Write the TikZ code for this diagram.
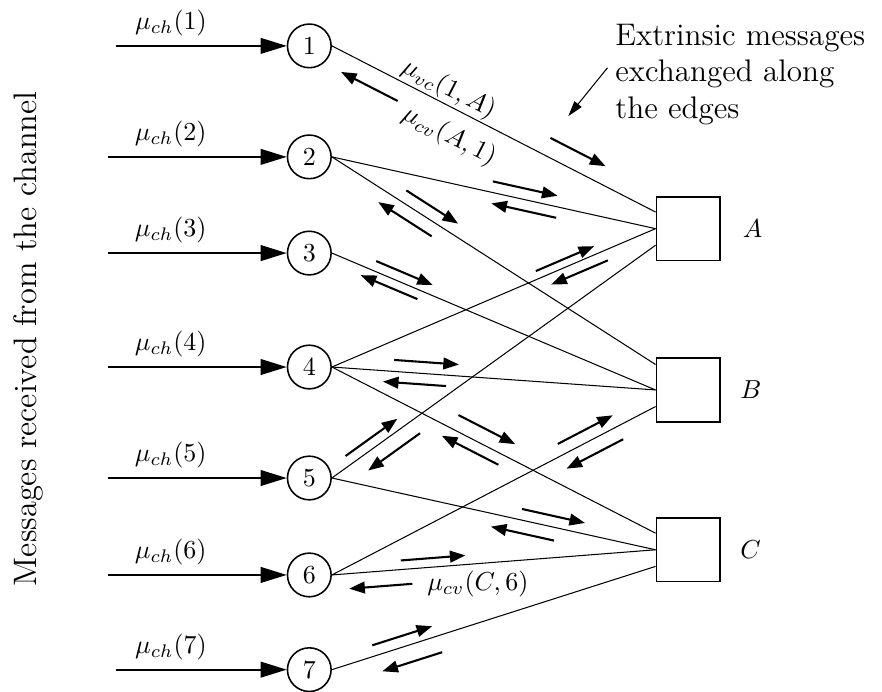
\documentclass[tikz,border=0pt]{standalone}
\usepackage{tikz}
\usetikzlibrary{positioning, calc, arrows.meta}

\begin{document}
\begin{tikzpicture}[
    varnode/.style={circle, draw, semithick, minimum size=0.59cm, inner sep=0pt},
    checknode/.style={rectangle, draw, semithick, minimum size=0.86cm},
    link/.style={thin},
    chan/.style={thick, -{Triangle[length=10pt, width=6pt]}},
    msg/.style={thick, -{Triangle[length=6pt, width=4.5pt]}},
    pointer/.style={thin, -{Triangle[length=6pt, width=3.5pt]}}
]
\useasboundingbox (0,0) rectangle (11.92,-9.34);

% variable nodes
\node [varnode] (v1) at (4.18,-0.62) {1};
\node [varnode] (v2) at (4.18,-2.12) {2};
\node [varnode] (v3) at (4.18,-3.42) {3};
\node [varnode] (v4) at (4.18,-4.96) {4};
\node [varnode] (v5) at (4.18,-6.46) {5};
\node [varnode] (v6) at (4.18,-7.77) {6};
\node [varnode] (v7) at (4.18,-9.05) {7};

% check nodes
\node [checknode, label={[label distance=5pt]right:$A$}] (A) at (9.30,-3.09) {};
\node [checknode, label={[label distance=4pt]right:$B$}] (B) at (9.30,-5.27) {};
\node [checknode, label={[label distance=4pt]right:$C$}] (C) at (9.30,-7.43) {};

% side texts
\node [rotate=90, font=\fontsize{12.5}{15}\selectfont] (side) at (0.38,-4.58) {Messages received from the channel};
\node [anchor=north west, align=left, font=\large, inner sep=0pt] (ext) at (8.31,-0.32) {Extrinsic messages\\ exchanged along\\ the edges};
\coordinate (tip) at (7.68,-1.57);
\draw [pointer] ([shift={(-0.1,0.09)}]ext.west) -- (tip);

% channel inputs
\draw [chan] ([xshift=-2.3cm]v1.west) -- node[above, pos=0.32] {$\mu_{ch}(1)$} (v1);
\draw [chan] ([xshift=-2.41cm]v2.west) -- node[above, pos=0.35] {$\mu_{ch}(2)$} (v2);
\draw [chan] ([xshift=-2.41cm]v3.west) -- node[above, pos=0.35] {$\mu_{ch}(3)$} (v3);
\draw [chan] ([xshift=-2.41cm]v4.west) -- node[above, pos=0.35] {$\mu_{ch}(4)$} (v4);
\draw [chan] ([xshift=-2.41cm]v5.west) -- node[above, pos=0.35] {$\mu_{ch}(5)$} (v5);
\draw [chan] ([xshift=-2.41cm]v6.west) -- node[above, pos=0.35] {$\mu_{ch}(6)$} (v6);
\draw [chan] ([xshift=-2.3cm]v7.west) -- node[above, pos=0.32] {$\mu_{ch}(7)$} (v7);

% edges of the graph
\draw [link] (v1.east) -- node[pos=0.34, sloped, anchor=south, inner sep=0.5pt] {$\mu_{vc}(1,A)$}
                          node[pos=0.40, sloped, anchor=north, inner sep=5pt] {$\mu_{cv}(A,1)$} (A.153);
\draw [link] (v2.east) -- (A.west);
\draw [link] (v4.east) -- (A.west);
\draw [link] (v5.east) -- (A.207);
\draw [link] (v2.east) -- (B.142);
\draw [link] (v3.east) -- (B.west);
\draw [link] (v4.east) -- (B.west);
\draw [link] (v6.east) -- (B.207);
\draw [link] (v4.east) -- (C.153);
\draw [link] (v5.east) -- (C.west);
\draw [link] (v6.east) -- (C.west);
\draw [link] (v7.east) -- (C.207);

% messages along the edges
\draw [msg] ($(v1.east)!0.65!(A.153)!6.9pt!90:(A.153)$) -- ($(v1.east)!0.82!(A.153)!6.9pt!90:(A.153)$);
\draw [msg] ($(v1.east)!0.23!(A.153)!-7.3pt!90:(A.153)$) -- ($(v1.east)!0.055!(A.153)!-7.3pt!90:(A.153)$);
\draw [msg] ($(v2.east)!0.49!(A.west)!4.2pt!90:(A.west)$) -- ($(v2.east)!0.69!(A.west)!4.2pt!90:(A.west)$);
\draw [msg] ($(v2.east)!0.70!(A.west)!-4.2pt!90:(A.west)$) -- ($(v2.east)!0.50!(A.west)!-4.2pt!90:(A.west)$);
\draw [msg] ($(v4.east)!0.64!(A.west)!3.1pt!90:(A.west)$) -- ($(v4.east)!0.82!(A.west)!3.1pt!90:(A.west)$);
\draw [msg] ($(v4.east)!0.84!(A.west)!-4pt!90:(A.west)$) -- ($(v4.east)!0.665!(A.west)!-4pt!90:(A.west)$);
\draw [msg] ($(v5.east)!0.06!(A.207)!3.8pt!90:(A.207)$) -- ($(v5.east)!0.22!(A.207)!3.8pt!90:(A.207)$);
\draw [msg] ($(v5.east)!0.245!(A.207)!-5.8pt!90:(A.207)$) -- ($(v5.east)!0.085!(A.207)!-5.8pt!90:(A.207)$);

\draw [msg] ($(v2.east)!0.21!(B.142)!4.6pt!90:(B.142)$) -- ($(v2.east)!0.37!(B.142)!4.6pt!90:(B.142)$);
\draw [msg] ($(v2.east)!0.33!(B.142)!-5pt!90:(B.142)$) -- ($(v2.east)!0.165!(B.142)!-5pt!90:(B.142)$);
\draw [msg] ($(v3.east)!0.125!(B.west)!3.8pt!90:(B.west)$) -- ($(v3.east)!0.30!(B.west)!3.8pt!90:(B.west)$);
\draw [msg] ($(v3.east)!0.275!(B.west)!-3.5pt!90:(B.west)$) -- ($(v3.east)!0.10!(B.west)!-3.5pt!90:(B.west)$);
\draw [msg] ($(v4.east)!0.19!(B.west)!4.4pt!90:(B.west)$) -- ($(v4.east)!0.39!(B.west)!4.4pt!90:(B.west)$);
\draw [msg] ($(v4.east)!0.355!(B.west)!-4.2pt!90:(B.west)$) -- ($(v4.east)!0.16!(B.west)!-4.2pt!90:(B.west)$);
\draw [msg] ($(v6.east)!0.715!(B.207)!4.6pt!90:(B.207)$) -- ($(v6.east)!0.885!(B.207)!4.6pt!90:(B.207)$);
\draw [msg] ($(v6.east)!0.88!(B.207)!-5.4pt!90:(B.207)$) -- ($(v6.east)!0.705!(B.207)!-5.4pt!90:(B.207)$);

\draw [msg] ($(v4.east)!0.37!(C.153)!5.8pt!90:(C.153)$) -- ($(v4.east)!0.545!(C.153)!5.8pt!90:(C.153)$);
\draw [msg] ($(v4.east)!0.53!(C.153)!-4.2pt!90:(C.153)$) -- ($(v4.east)!0.355!(C.153)!-4.2pt!90:(C.153)$);
\draw [msg] ($(v5.east)!0.58!(C.west)!4.2pt!90:(C.west)$) -- ($(v5.east)!0.775!(C.west)!4.2pt!90:(C.west)$);
\draw [msg] ($(v5.east)!0.695!(C.west)!-5pt!90:(C.west)$) -- ($(v5.east)!0.50!(C.west)!-5pt!90:(C.west)$);
\draw [msg] ($(v6.east)!0.215!(C.west)!3.5pt!90:(C.west)$) -- ($(v6.east)!0.415!(C.west)!3.5pt!90:(C.west)$);
\draw [msg] ($(v6.east)!0.245!(C.west)!-5.8pt!90:(C.west)$) node[right=2pt] {$\mu_{cv}(C,6)$}
         -- ($(v6.east)!0.05!(C.west)!-5.8pt!90:(C.west)$);
\draw [msg] ($(v7.east)!0.135!(C.207)!4.2pt!90:(C.207)$) -- ($(v7.east)!0.32!(C.207)!4.2pt!90:(C.207)$);
\draw [msg] ($(v7.east)!0.325!(C.207)!-6.5pt!90:(C.207)$) -- ($(v7.east)!0.14!(C.207)!-6.5pt!90:(C.207)$);

\end{tikzpicture}
\end{document}
